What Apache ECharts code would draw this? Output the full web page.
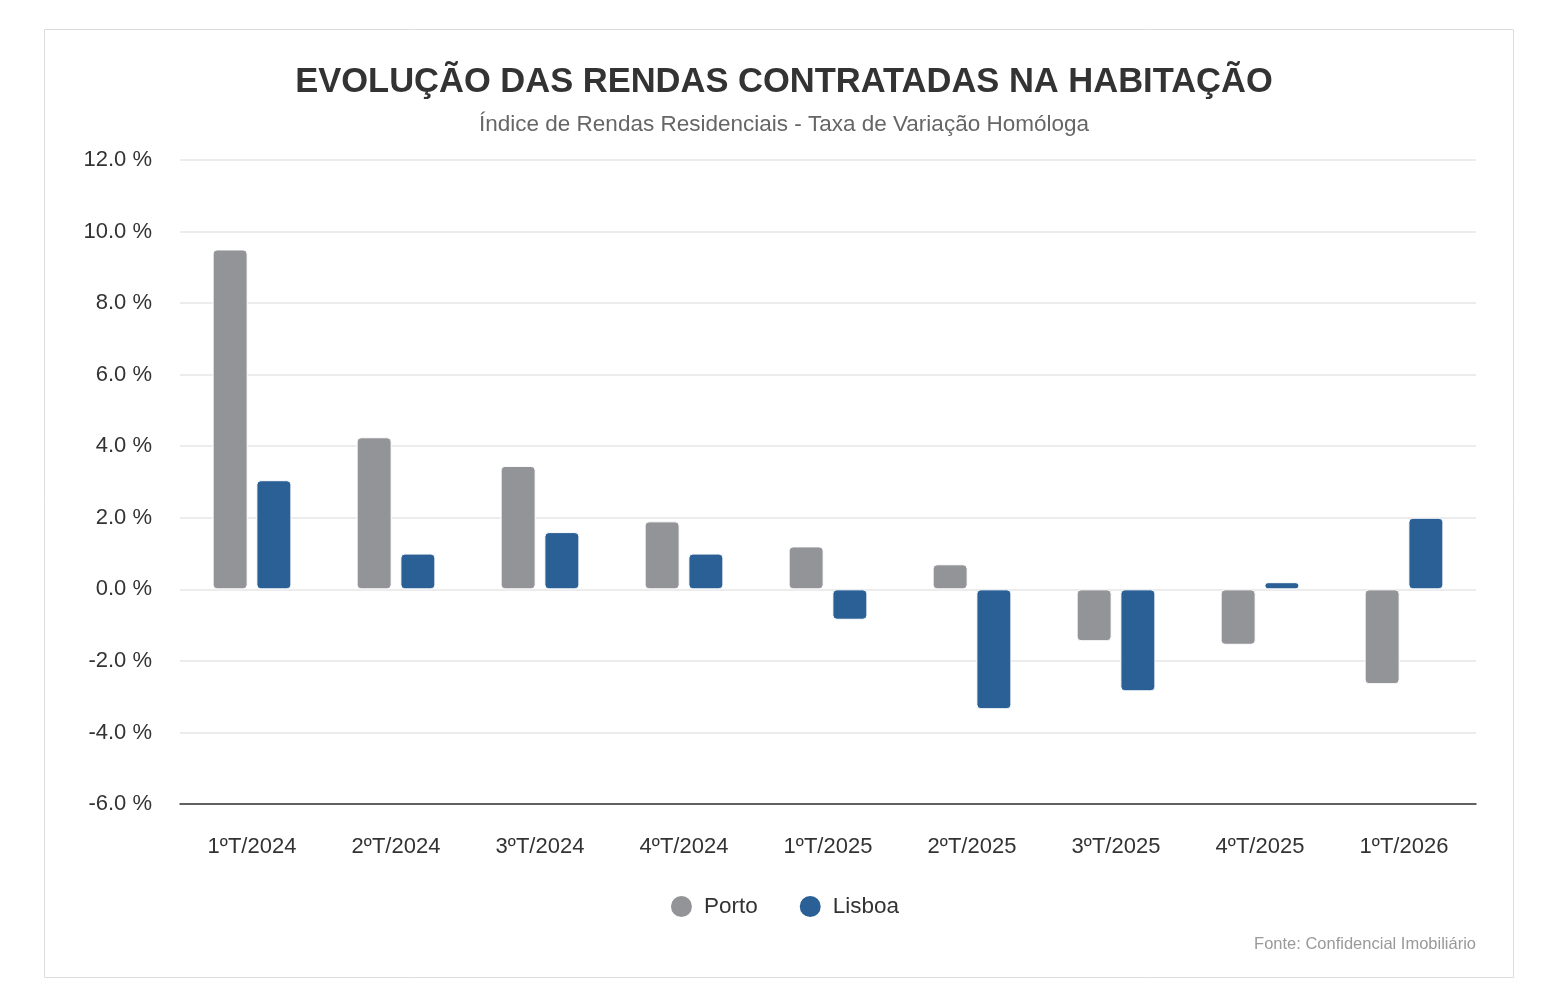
<!DOCTYPE html>
<html>
<head>
<meta charset="utf-8">
<script src="https://cdn.jsdelivr.net/npm/echarts@6/dist/echarts.min.js"></script>
<style>
  html, body { margin: 0; padding: 0; background: #fff; }
  #chart { width: 1568px; height: 1006px; }
</style>
</head>
<body>
<div id="chart"></div>
<script>
// dados
const quarters = ['1ºT/2024', '2ºT/2024', '3ºT/2024', '4ºT/2024', '1ºT/2025', '2ºT/2025', '3ºT/2025', '4ºT/2025', '1ºT/2026']
const porto = [9.5, 4.25, 3.45, 1.9, 1.2, 0.7, -1.45, -1.55, -2.65]
const lisboa = [3.05, 1.0, 1.6, 1.0, -0.85, -3.35, -2.85, 0.2, 2.0]
const yTicks = { min: -6, max: 12, step: 2 }

const font = '"Liberation Sans", Arial, Helvetica, sans-serif'
const chart = echarts.init(document.getElementById('chart'))

chart.setOption({
  animation: false,
  textStyle: { fontFamily: font },
  title: {
    text: 'EVOLUÇÃO DAS RENDAS CONTRATADAS NA HABITAÇÃO',
    subtext: 'Índice de Rendas Residenciais - Taxa de Variação Homóloga',
    left: 'center',
    top: 60,
    itemGap: 13,
    textStyle: { fontSize: 34.5, fontWeight: 'bold', color: '#333', fontFamily: font },
    subtextStyle: { fontSize: 22.5, color: '#666', fontFamily: font }
  },
  graphic: [
    {
      type: 'rect',
      shape: { x: 44.5, y: 29.5, width: 1469, height: 948 },
      style: { fill: 'none', stroke: '#dcdcdc', lineWidth: 1 },
      silent: true
    },
    {
      type: 'text',
      right: 92,
      top: 936,
      style: { text: 'Fonte: Confidencial Imobiliário', fill: '#999', fontSize: 16.5, fontFamily: font }
    }
  ],
  legend: {
    data: ['Porto', 'Lisboa'],
    bottom: 82,
    left: 'center',
    icon: 'circle',
    itemWidth: 23,
    itemHeight: 23,
    itemGap: 40,
    textStyle: { fontSize: 22.5, color: '#333', fontFamily: font, padding: [0, 0, 0, 6] }
  },
  grid: {
    left: 180,
    right: 92,
    top: 160,
    bottom: 202,
    containLabel: false
  },
  xAxis: {
    type: 'category',
    data: quarters,
    axisLine: { onZero: false, lineStyle: { color: '#333', width: 1.5 } },
    axisTick: { show: false },
    axisLabel: { fontSize: 22, color: '#333', margin: 32, fontFamily: font }
  },
  yAxis: {
    type: 'value',
    min: yTicks.min,
    max: yTicks.max,
    interval: yTicks.step,
    axisLine: { show: false },
    axisTick: { show: false },
    splitLine: { lineStyle: { color: '#e6e6e6', width: 1.5 } },
    axisLabel: {
      fontSize: 22,
      color: '#333',
      margin: 28,
      fontFamily: font,
      formatter: v => v.toFixed(1) + ' %'
    }
  },
  series: [
    {
      name: 'Porto',
      type: 'bar',
      data: porto,
      barWidth: 35,
      barGap: '25%',
      itemStyle: { color: '#939498', borderColor: '#fff', borderWidth: 1, borderRadius: 4 }
    },
    {
      name: 'Lisboa',
      type: 'bar',
      data: lisboa,
      barWidth: 35,
      barGap: '25%',
      itemStyle: { color: '#2a6096', borderColor: '#fff', borderWidth: 1, borderRadius: 4 }
    }
  ]
})
</script>
</body>
</html>
